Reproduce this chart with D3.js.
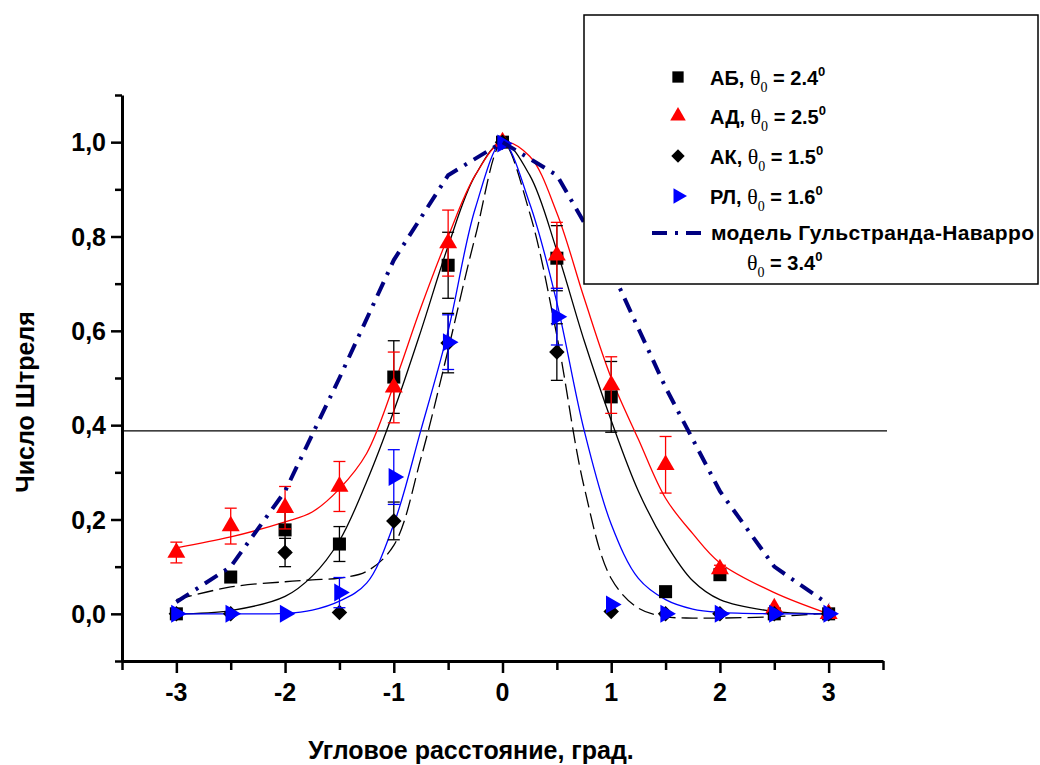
<!DOCTYPE html>
<html>
<head>
<meta charset="utf-8">
<script src="https://cdn.jsdelivr.net/npm/d3@7"></script>
<style>
  body { margin: 0; background: #fff; }
  text { font-family: "Liberation Sans", Arial, sans-serif; font-weight: bold; }
</style>
</head>
<body>
<div id="chart"></div>
<script>
// measured points
var xs = [-3, -2.5, -2, -1.5, -1, -0.5, 0, 0.5, 1, 1.5, 2, 2.5, 3];
var ab    = [0, 0.078, 0.178, 0.148, 0.502, 0.739, 1.0, 0.754, 0.46, 0.047, 0.083, 0, 0];
var abErr = [0, 0, 0.045, 0.037, 0.077, 0.07, 0, 0.069, 0.075, 0, 0, 0, 0];
var ad    = [0.13, 0.186, 0.225, 0.27, 0.48, 0.786, 1.0, 0.76, 0.485, 0.316, 0.095, 0.012, 0];
var adErr = [0.022, 0.038, 0.045, 0.053, 0.075, 0.07, 0, 0.07, 0.06, 0.06, 0.008, 0, 0];
var ak    = [0, 0, 0.13, 0.003, 0.197, 0.574, 1.0, 0.555, 0.005, 0, 0, 0, 0];
var akErr = [0, 0, 0.03, 0, 0.04, 0.063, 0, 0.06, 0, 0, 0, 0, 0];
var rl    = [0, 0, 0, 0.045, 0.29, 0.576, 0.997, 0.63, 0.02, 0, 0, 0, 0];
var rlErr = [0, 0, 0, 0.032, 0.058, 0.058, 0, 0.06, 0, 0, 0, 0, 0];
var model = [0.025, 0.1, 0.26, 0.5, 0.75, 0.93, 1.0, 0.93, 0.73, 0.48, 0.26, 0.1, 0.02];

// fitted curves
var fitX   = [-3, -2.5, -2, -1.75, -1.5, -1.25, -1, -0.75, -0.5, -0.25, 0, 0.25, 0.5, 0.75, 1, 1.25, 1.5, 1.75, 2, 2.5, 3];
var abFit  = [0, 0.007, 0.037, 0.08, 0.155, 0.28, 0.43, 0.6, 0.78, 0.93, 1.0, 0.93, 0.77, 0.58, 0.41, 0.26, 0.15, 0.07, 0.03, 0.005, 0];
var adFit  = [0.14, 0.163, 0.195, 0.216, 0.265, 0.34, 0.485, 0.65, 0.8, 0.93, 1.0, 0.97, 0.85, 0.67, 0.5, 0.37, 0.245, 0.17, 0.108, 0.045, 0];
var akFit  = [0.03, 0.057, 0.068, 0.072, 0.076, 0.09, 0.145, 0.33, 0.56, 0.8, 1.0, 0.85, 0.59, 0.27, 0.075, 0.012, -0.006, -0.009, -0.009, -0.006, 0.002];
var rlFit  = [0, 0, 0.001, 0.008, 0.027, 0.065, 0.19, 0.39, 0.6, 0.86, 1.0, 0.87, 0.66, 0.39, 0.19, 0.075, 0.03, 0.01, 0.003, 0, 0];

var yTicks = [0, 0.2, 0.4, 0.6, 0.8, 1.0];
var xTicks = [-3, -2, -1, 0, 1, 2, 3];
var cutLine = 0.388;

var legendItems = [
  {name: "АБ", th: "2.4", sym: d3.symbolSquare, color: "#000", rot: 0, size: 170},
  {name: "АД", th: "2.5", sym: d3.symbolTriangle, color: "#ff0000", rot: 0, size: 140},
  {name: "АК", th: "1.5", sym: d3.symbolSquare, color: "#000", rot: 45, size: 120},
  {name: "РЛ", th: "1.6", sym: d3.symbolTriangle, color: "#0000ff", rot: 90, size: 140}
];

var W = 1040, H = 765;
var svg = d3.select("#chart").append("svg").attr("width", W).attr("height", H);

var x = d3.scaleLinear().domain([-3.5, 3.5]).range([122, 883]);
var y = d3.scaleLinear().domain([-0.1, 1.1]).range([661, 95]);

// axes
var xAxis = d3.axisBottom(x).tickValues(d3.range(-3.5, 3.51, 0.5))
  .tickSize(0).tickFormat("");
var gx = svg.append("g").attr("transform", "translate(0," + y(-0.1) + ")").call(xAxis);
gx.select(".domain").attr("stroke-width", 3);
gx.selectAll(".tick line").attr("y2", function(d) { return Number.isInteger(d) ? 12 : 9; })
  .attr("stroke-width", 2.5);
svg.append("g").selectAll("text").data(xTicks).enter().append("text")
  .attr("x", function(d) { return x(d); })
  .attr("y", 701)
  .attr("text-anchor", "middle")
  .style("font-size", "25px")
  .text(function(d) { return d; });

var yAxis = d3.axisLeft(y).tickValues(d3.range(-0.1, 1.11, 0.1)).tickSize(0).tickFormat("");
var gy = svg.append("g").attr("transform", "translate(" + x(-3.5) + ",0)").call(yAxis);
gy.select(".domain").attr("stroke-width", 3);
gy.selectAll(".tick line").attr("x2", function(d) {
    var k = Math.round(d * 10);
    return (k % 2 === 0) ? -11 : -7;
  })
  .attr("stroke-width", 2.5);
svg.append("g").selectAll("text").data(yTicks).enter().append("text")
  .attr("x", 106)
  .attr("y", function(d) { return y(d) + 9; })
  .attr("text-anchor", "end")
  .style("font-size", "25px")
  .text(function(d) { return d3.format(".1f")(d).replace(".", ","); });

// titles
svg.append("text").attr("x", 471).attr("y", 759).attr("text-anchor", "middle")
  .style("font-size", "25px").text("Угловое расстояние, град.");
svg.append("text").attr("transform", "translate(34,402) rotate(-90)")
  .attr("text-anchor", "middle").style("font-size", "25px").text("Число Штреля");

// horizontal reference line
svg.append("line").attr("x1", x(-3.5)).attr("x2", 887)
  .attr("y1", y(cutLine)).attr("y2", y(cutLine))
  .attr("stroke", "#000").attr("stroke-width", 1.2);

// fitted curves
var line = d3.line().x(function(d) { return x(d[0]); }).y(function(d) { return y(d[1]); })
  .curve(d3.curveCatmullRom.alpha(0.5));
function fitPts(vals) { return fitX.map(function(v, i) { return [v, vals[i]]; }); }

svg.append("path").datum(fitPts(akFit)).attr("d", line).attr("fill", "none")
  .attr("stroke", "#000").attr("stroke-width", 1.3).attr("stroke-dasharray", "16,6");
svg.append("path").datum(fitPts(abFit)).attr("d", line).attr("fill", "none")
  .attr("stroke", "#000").attr("stroke-width", 1.3);
svg.append("path").datum(fitPts(rlFit)).attr("d", line).attr("fill", "none")
  .attr("stroke", "#0000ff").attr("stroke-width", 1.3);
svg.append("path").datum(fitPts(adFit)).attr("d", line).attr("fill", "none")
  .attr("stroke", "#ff0000").attr("stroke-width", 1.3);

// markers with error bars
function drawSeries(vals, errs, item) {
  var g = svg.append("g");
  var pts = xs.map(function(v, i) { return {x: v, y: vals[i], e: errs[i]}; });
  var eb = g.selectAll(".eb").data(pts.filter(function(d) { return d.e > 0; })).enter().append("g")
    .attr("stroke", item.color).attr("stroke-width", 1.3);
  eb.append("line").attr("x1", function(d) { return x(d.x); }).attr("x2", function(d) { return x(d.x); })
    .attr("y1", function(d) { return y(d.y - d.e); }).attr("y2", function(d) { return y(d.y + d.e); });
  eb.append("line").attr("x1", function(d) { return x(d.x) - 6; }).attr("x2", function(d) { return x(d.x) + 6; })
    .attr("y1", function(d) { return y(d.y + d.e); }).attr("y2", function(d) { return y(d.y + d.e); });
  eb.append("line").attr("x1", function(d) { return x(d.x) - 6; }).attr("x2", function(d) { return x(d.x) + 6; })
    .attr("y1", function(d) { return y(d.y - d.e); }).attr("y2", function(d) { return y(d.y - d.e); });
  g.selectAll("path").data(pts).enter().append("path")
    .attr("d", d3.symbol().type(item.sym).size(item.size))
    .attr("transform", function(d) { return "translate(" + x(d.x) + "," + y(d.y) + ") rotate(" + item.rot + ")"; })
    .attr("fill", item.color);
}
drawSeries(ab, abErr, legendItems[0]);
drawSeries(ad, adErr, legendItems[1]);
drawSeries(ak, akErr, legendItems[2]);
drawSeries(rl, rlErr, legendItems[3]);

// model line
var mline = d3.line().x(function(d, i) { return x(xs[i]); }).y(function(d) { return y(d); });
svg.append("path").datum(model).attr("d", mline).attr("fill", "none")
  .attr("stroke", "#000080").attr("stroke-width", 4)
  .attr("stroke-dasharray", "15,8,3,8");

// legend
var lg = svg.append("g");
lg.append("rect").attr("x", 584).attr("y", 15).attr("width", 454).attr("height", 269)
  .attr("fill", "#fff").attr("stroke", "#000").attr("stroke-width", 1.5);
var rowY = [78, 117, 157, 197];
legendItems.forEach(function(it, i) {
  lg.append("path").attr("d", d3.symbol().type(it.sym).size(it.size * 0.75))
    .attr("transform", "translate(678," + (rowY[i] - 1) + ") rotate(" + it.rot + ")")
    .attr("fill", it.color);
  var t = lg.append("text").attr("x", 710).attr("y", rowY[i] + 7).style("font-size", "20px");
  t.append("tspan").text(it.name + ", ");
  t.append("tspan").style("font-family", "'Liberation Serif', serif").style("font-weight", "normal")
    .style("font-size", "22px").text("θ");
  t.append("tspan").attr("dy", 7).style("font-family", "'Liberation Serif', serif").style("font-weight", "normal")
    .style("font-size", "14px").text("0");
  t.append("tspan").attr("dy", -7).text(" = " + it.th);
  t.append("tspan").attr("dy", -9).style("font-size", "13px").text("0");
});
lg.append("line").attr("x1", 652).attr("x2", 704).attr("y1", 233).attr("y2", 233)
  .attr("stroke", "#000080").attr("stroke-width", 4).attr("stroke-dasharray", "15,8,3,8");
lg.append("text").attr("x", 711).attr("y", 240).style("font-size", "21px")
  .attr("textLength", 323).attr("lengthAdjust", "spacing").text("модель Гульстранда-Наварро");
var t2 = lg.append("text").attr("x", 747).attr("y", 270).style("font-size", "20px");
t2.append("tspan").style("font-family", "'Liberation Serif', serif").style("font-weight", "normal")
  .style("font-size", "22px").text("θ");
t2.append("tspan").attr("dy", 7).style("font-family", "'Liberation Serif', serif").style("font-weight", "normal")
  .style("font-size", "14px").text("0");
t2.append("tspan").attr("dy", -7).text(" = 3.4");
t2.append("tspan").attr("dy", -9).style("font-size", "13px").text("0");
</script>
</body>
</html>
